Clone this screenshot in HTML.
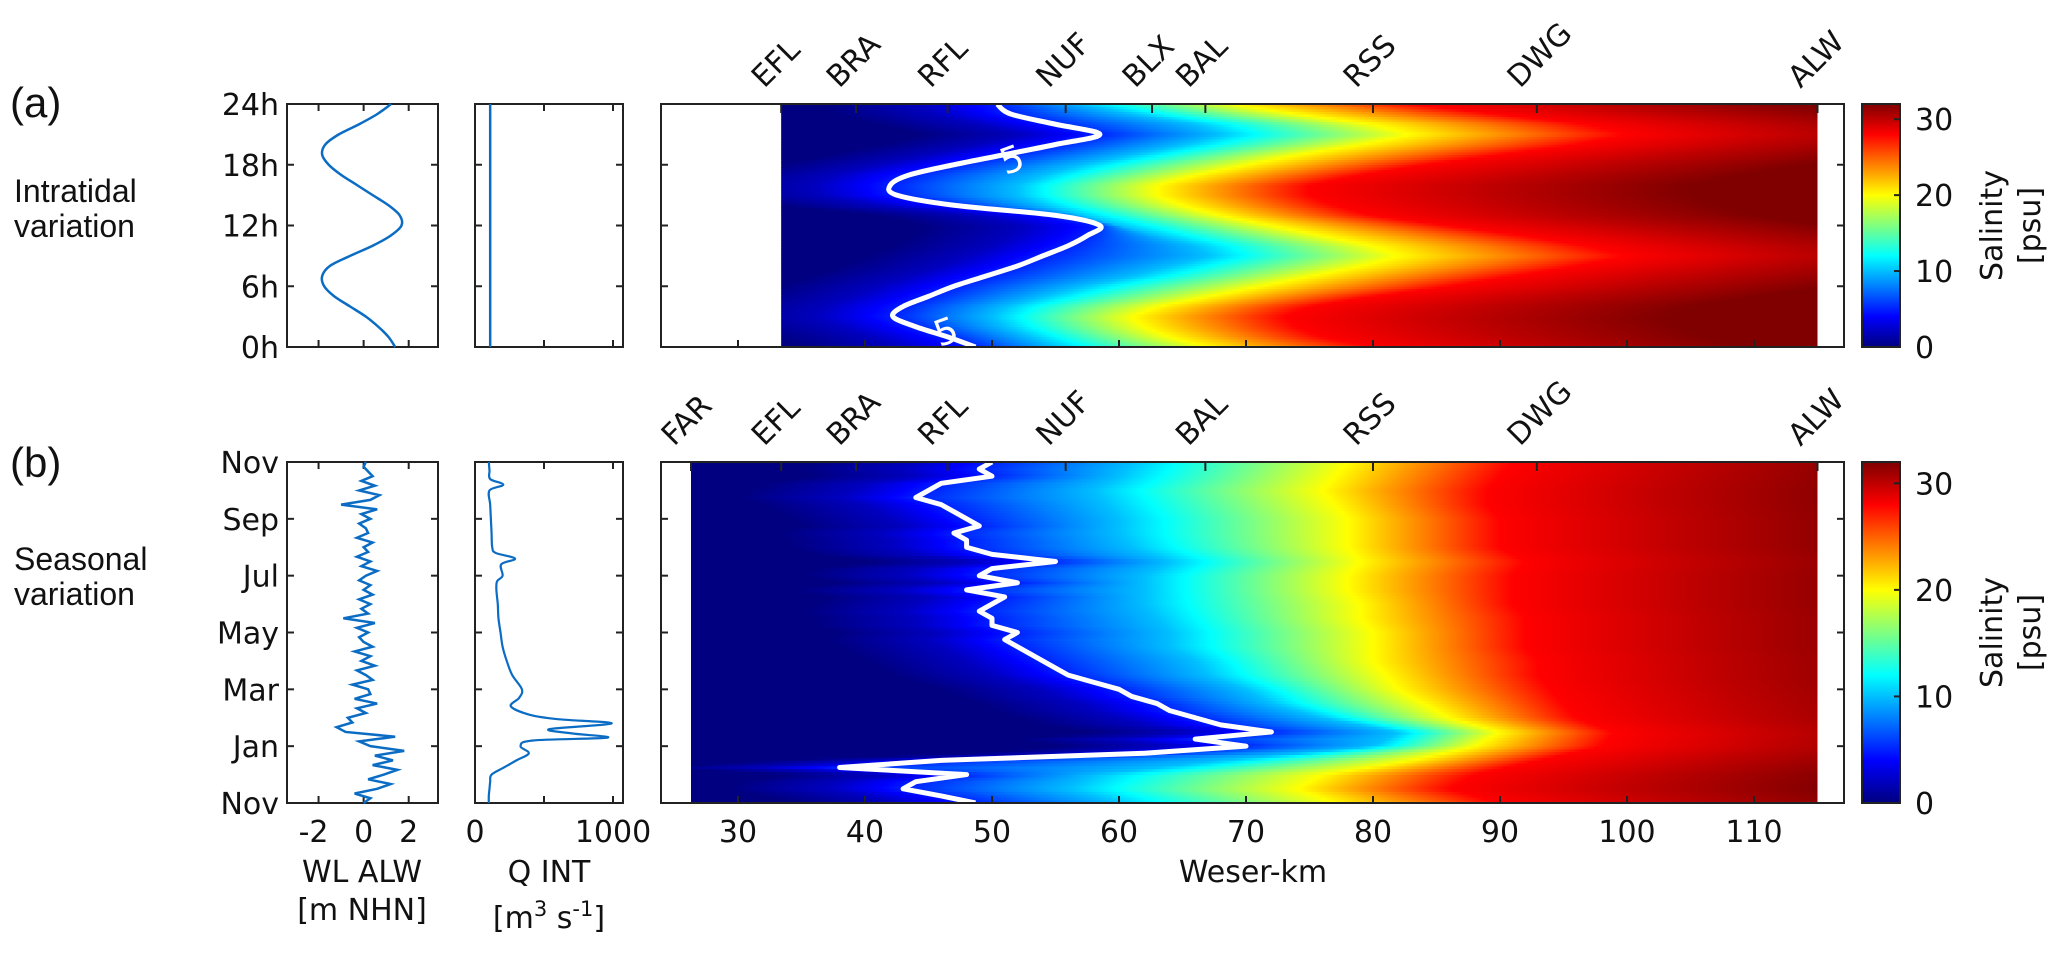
<!DOCTYPE html>
<html><head><meta charset="utf-8"><style>
html,body{margin:0;padding:0;background:#fff;}
svg{display:block;}
text{font-family:"DejaVu Sans","Liberation Sans",sans-serif;fill:#111;}
.lbl{font-family:"Liberation Sans",sans-serif;}
</style></head><body>
<svg id="fig" width="2067" height="953" viewBox="0 0 2067 953" xmlns="http://www.w3.org/2000/svg">
<defs id="defs"></defs>
<g id="root"></g>
</svg>
<script>
// ---------- data ----------
const tideHours = [0,1,2,3,4,5,6,7,8,9,10,11,12,13,14,15,16,17,18,19,20,21,22,23,24];
const tideWL = [1.4,1.1,0.65,0.1,-0.6,-1.3,-1.75,-1.84,-1.5,-0.6,0.4,1.2,1.68,1.6,1.1,0.4,-0.3,-1.0,-1.55,-1.84,-1.7,-1.1,-0.2,0.6,1.22];
const tideQ = [110,110,110,110,110,110,110,110,110,110,110,110,110,110,110,110,110,110,110,110,110,110,110,110,110];
const tideIso5 = [48.7,46.5,44,42.2,43,45,47,49.5,52,54,56,57.5,58.5,55,47,42.5,42,43.5,47,51,55,58.5,55,51.5,50.4];
const tideIso10 = [55,53,51,50,51,54,57,61,64,67,66,63,60,57,54,52,52,54,57,61,65,68,66,61,57];
const tideIso20 = [67,64,62,61,63,67,71,75,79,82,80,76,72,68,65,63,63,66,70,74,79,83,80,74,69];
const tideIso28 = [80,76,74,73,75,80,86,91,96,100,97,92,86,80,77,75,75,79,84,90,96,100,97,90,83];

const seasWL = [0.0,0.3,-0.4,0.6,1.2,0.2,0.9,1.5,0.4,1.3,0.5,1.8,0.3,-0.2,1.4,-0.8,-1.2,-0.5,-0.7,0.1,-0.3,0.6,-0.4,0.3,
 0.2,-0.5,0.4,0.1,-0.3,0.5,-0.1,0.3,-0.4,0.4,0.0,-0.2,0.2,-0.3,0.5,-0.9,0.2,-0.1,0.3,-0.2,0.4,0.0,0.3,-0.2,
 0.1,0.6,-0.1,0.3,-0.3,0.2,0.0,0.4,-0.3,0.2,0.1,-0.2,0.3,-0.1,0.6,-1.0,0.3,0.7,-0.2,0.5,-0.1,0.4,0.2,0.0,0.1];
const seasQMonths = [0,0.25,0.5,0.75,1.0,1.25,1.5,1.75,2.0,2.2,2.3,2.45,2.6,2.8,2.95,3.1,3.4,3.7,4.0,4.5,5.0,5.5,6.0,6.5,7.0,7.5,7.8,8.0,8.4,8.6,8.8,9.0,9.5,10.0,10.5,11.0,11.2,11.4,11.7,12.0];
const seasQ = [100,100,105,110,120,210,300,390,330,420,960,700,540,990,600,400,260,320,340,270,230,200,185,170,165,155,160,200,190,290,150,125,120,115,110,105,205,110,105,100];
const seasIso5 = [48.7,46,43,44,48,38,46,62,70,66,72,68,66,64,63,61,60,58,56,55,54,53,52,51,52,50,50,49,50,51,48,52,49,50,55,50,48,48,47,49,48,47,46,44,45,46,50,49,50];
const seasIso10 = [60,56,58,68,80,82,76,72,70,67,66,64,64,63,62,62,62,64,61,60,60,59,58,60,61];
const seasIso20 = [77,74,76,83,88,90,86,84,82,81,80,80,80,79,79,78,78,79,78,78,78,77,76,77,78];
const seasIso28 = [90,86,88,93,98,99,96,95,94,93,93,92,92,92,91,91,91,92,90,90,90,89,89,90,91];

const kmTicks = [30,40,50,60,70,80,90,100,110];
const stationsA = ["EFL","BRA","RFL","NUF","BLX","BAL","RSS","DWG","ALW"];
const stationsAKm = [33.4,39.3,46.5,55.8,62.6,66.8,80.0,92.9,115.0];
const stationsB = ["FAR","EFL","BRA","RFL","NUF","BAL","RSS","DWG","ALW"];
const stationsBKm = [26.3,33.4,39.3,46.5,55.8,66.8,80.0,92.9,115.0];
const hourTicks = [0,6,12,18,24];
const hourLabels = ["0h","6h","12h","18h","24h"];
const monthTicks = [0,2,4,6,8,10,12];
const monthLabels = ["Nov","Jan","Mar","May","Jul","Sep","Nov"];
const wlTicks = [-2,0,2];
const qTicks = [0,500,1000];
const qTickLabels = ["0","","1000"];
const cbTicks = [0,10,20,30];

// ---------- helpers ----------
const NS="http://www.w3.org/2000/svg";
const root=document.getElementById('root');
const defs=document.getElementById('defs');
function el(tag,attrs,parent){const e=document.createElementNS(NS,tag);for(const k in attrs)e.setAttribute(k,attrs[k]);(parent||root).appendChild(e);return e;}
function txt(s,x,y,size,anchor,parent,extra){const t=el('text',Object.assign({x:x,y:y,'font-size':size,'text-anchor':anchor||'middle'},extra||{}),parent);t.textContent=s;return t;}
const pxKm=km=>738+(km-30)*12.7;
const A={top:104,bot:347}, B={top:462,bot:803};
const yHour=h=>A.bot-h*(A.bot-A.top)/24;
const yMon=m=>B.bot-m*(B.bot-B.top)/12;
const pxWL=v=>287+(v+3.4)*(151/6.7);
const pxQ=v=>475+v*0.138;
function jet(v){v=Math.max(0,Math.min(1,v));const c=x=>Math.round(255*Math.max(0,Math.min(1,1.5-Math.abs(x))));return `rgb(${c(4*v-3)},${c(4*v-2)},${c(4*v-1)})`;}
function interp(xs,ys,x){if(x<=xs[0])return ys[0];for(let i=1;i<xs.length;i++){if(x<=xs[i]){const f=(x-xs[i-1])/(xs[i]-xs[i-1]);return ys[i-1]+f*(ys[i]-ys[i-1]);}}return ys[ys.length-1];}
function smoothPath(pts){let d=`M${pts[0][0]},${pts[0][1]}`;for(let i=0;i<pts.length-1;i++){const p0=pts[Math.max(0,i-1)],p1=pts[i],p2=pts[i+1],p3=pts[Math.min(pts.length-1,i+2)];
d+=` C${p1[0]+(p2[0]-p0[0])/6},${p1[1]+(p2[1]-p0[1])/6} ${p2[0]-(p3[0]-p1[0])/6},${p2[1]-(p3[1]-p1[1])/6} ${p2[0]},${p2[1]}`;}return d;}
function box(x1,y1,x2,y2,name){el('rect',{x:x1,y:y1,width:x2-x1,height:y2-y1,fill:'none',stroke:'#222','stroke-width':2,});}
let gid=0;
function rowGradient(i5,i10,i20,i28){
  const id='g'+(gid++);
  const g=el('linearGradient',{id:id,gradientUnits:'userSpaceOnUse',x1:pxKm(0),y1:0,x2:pxKm(150),y2:0},defs);
  const aS=[0,2,5,10,20,28,30,32], aK=[i5-14,i5-6,i5,i10,i20,i28,i28+14,i28+30];
  for(let s=0;s<=32;s+=1){const k=interp(aS,aK,s);el('stop',{offset:Math.min(1,k/150).toFixed(4),'stop-color':jet(s/32)},g);}
  return id;
}
function heat(panel,kmStart,xs,i5,i10,i20,i28,yFn,xMax,nRows,name){
  const g=el('g',{});
  for(let r=0;r<nRows;r++){
    const a=r*xMax/nRows,b=(r+1)*xMax/nRows,m=(a+b)/2;
    const id=rowGradient(interp(xs.i5,i5,m),interp(xs.i10,i10,m),interp(xs.i10,i20,m),interp(xs.i10,i28,m));
    const y1=yFn(b),y2=yFn(a);
    const rc=el('rect',{x:pxKm(kmStart),y:y1-0.3,width:pxKm(115)-pxKm(kmStart),height:y2-y1+0.6,fill:`url(#${id})`},g);
    
    
  }
}

// ---------- left labels ----------
txt('(a)',10,117,42,'start',root,{class:'lbl',});
txt('Intratidal',14,202,32,'start',root,{class:'lbl',});
txt('variation',14,237,32,'start',root,{class:'lbl',});
txt('(b)',10,477,42,'start',root,{class:'lbl',});
txt('Seasonal',14,570,32,'start',root,{class:'lbl',});
txt('variation',14,605,32,'start',root,{class:'lbl',});

// ---------- heatmaps ----------
const tx={i5:tideHours,i10:tideHours};
heat('a',33.4,tx,tideIso5,tideIso10,tideIso20,tideIso28,yHour,24,96,'heatmap-intratidal');
const sx5=seasIso5.map((_,i)=>i*12/(seasIso5.length-1));
const sx10=seasIso10.map((_,i)=>i*12/(seasIso10.length-1));
heat('b',26.3,{i5:sx5,i10:sx10},seasIso5,seasIso10,seasIso20,seasIso28,yMon,12,120,'heatmap-seasonal');

// contours
el('path',{d:smoothPath(tideIso5.map((k,i)=>[pxKm(k),yHour(tideHours[i])])),fill:'none',stroke:'#fff','stroke-width':5,});
const l1=txt('5',946,344,36,'middle',root,{transform:'rotate(-20 946 332)',});
l1.setAttribute('style','fill:#fff');
const l2=txt('5',1012,172,36,'middle',root,{transform:'rotate(-20 1012 160)',});
l2.setAttribute('style','fill:#fff');
el('polyline',{points:seasIso5.map((k,i)=>`${pxKm(k)},${yMon(sx5[i])}`).join(' '),fill:'none',stroke:'#fff','stroke-width':5,'stroke-linejoin':'round',});

// ---------- axes boxes & ticks ----------
function yTicks(x1,x2,vals,yFn){vals.forEach(v=>{const y=yFn(v);el('line',{x1:x1,y1:y,x2:x1+7,y2:y,stroke:'#222','stroke-width':2});el('line',{x1:x2,y1:y,x2:x2-7,y2:y,stroke:'#222','stroke-width':2});});}
function xTicks(vals,xFn,top,bot,botOnly){vals.forEach(v=>{const x=xFn(v);el('line',{x1:x,y1:bot,x2:x,y2:bot-7,stroke:'#222','stroke-width':2});if(!botOnly)el('line',{x1:x,y1:top,x2:x,y2:top+7,stroke:'#222','stroke-width':2});});}
[[A,'a'],[B,'b']].forEach(([P,n])=>{
  box(287,P.top,438,P.bot,'wl-axes-'+n);
  box(475,P.top,623,P.bot,'q-axes-'+n);
  box(661,P.top,1844,P.bot,'heatmap-axes-'+n);
  xTicks(wlTicks,pxWL,P.top,P.bot);
  xTicks(qTicks,pxQ,P.top,P.bot);
  xTicks(kmTicks,pxKm,P.top,P.bot,true);
  (n==='a'?stationsAKm:stationsBKm).forEach(k=>{const x=pxKm(k);el('line',{x1:x,y1:P.top,x2:x,y2:P.top+9,stroke:'#222','stroke-width':2});});
  (n==='a'?stationsA:stationsB).forEach((s,i)=>{const k=(n==='a'?stationsAKm:stationsBKm)[i];const x=pxKm(k)-17,y=P.top-15;
    const t=txt(s,x,y,30,'start',root,{transform:`rotate(-45 ${x} ${y})`});
    
    });
});
yTicks(287,438,hourTicks,yHour);yTicks(475,623,hourTicks,yHour);yTicks(661,1844,hourTicks,yHour);
yTicks(287,438,monthTicks,yMon);yTicks(475,623,monthTicks,yMon);yTicks(661,1844,monthTicks,yMon);
hourTicks.forEach((h,i)=>{const t=txt(hourLabels[i],279,yHour(h)+11,30,'end');});
monthTicks.forEach((m,i)=>{const t=txt(monthLabels[i],279,yMon(m)+11,30,'end');});
wlTicks.forEach(v=>{const t=txt(String(v),pxWL(v)-(v<0?5:0),842,30,'middle');});
qTicks.forEach((v,i)=>{if(!qTickLabels[i])return;const t=txt(qTickLabels[i],pxQ(v),842,30,'middle');});
kmTicks.forEach(v=>{const t=txt(String(v),pxKm(v),842,30,'middle');});
txt('WL ALW',362,882,30,'middle',root,{});
txt('[m NHN]',362,920,30,'middle',root,{});
txt('Q INT',549,882,30,'middle',root,{});
const qu=txt('',549,928,30,'middle',root,{});
qu.innerHTML='[m<tspan font-size="21" dy="-12">3</tspan><tspan dy="12"> s</tspan><tspan font-size="21" dy="-12">-1</tspan><tspan dy="12">]</tspan>';
txt('Weser-km',1253,882,30,'middle',root,{});

// ---------- line series ----------
el('path',{d:smoothPath(tideWL.map((v,i)=>[pxWL(v),yHour(tideHours[i])])),fill:'none',stroke:'#0b6cc4','stroke-width':2.5,});
el('polyline',{points:tideQ.map((v,i)=>`${pxQ(v)},${yHour(tideHours[i])}`).join(' '),fill:'none',stroke:'#0b6cc4','stroke-width':2.5,});
el('polyline',{points:seasWL.map((v,i)=>`${pxWL(v)},${yMon(i*12/(seasWL.length-1))}`).join(' '),fill:'none',stroke:'#0b6cc4','stroke-width':2.5,});
el('path',{d:smoothPath(seasQ.map((v,i)=>[pxQ(v),yMon(seasQMonths[i])])),fill:'none',stroke:'#0b6cc4','stroke-width':2.2,});

// ---------- colorbars ----------
const cg=el('linearGradient',{id:'cbg',x1:0,y1:1,x2:0,y2:0},defs);
for(let s=0;s<=32;s++)el('stop',{offset:(s/32).toFixed(4),'stop-color':jet(s/32)},cg);
[[A,'a'],[B,'b']].forEach(([P,n])=>{
  el('rect',{x:1862,y:P.top,width:38,height:P.bot-P.top,fill:'url(#cbg)',stroke:'#222','stroke-width':2,});
  cbTicks.forEach(v=>{const y=P.bot-v*(P.bot-P.top)/32;el('line',{x1:1900,y1:y,x2:1894,y2:y,stroke:'#222','stroke-width':2});
    const t=txt(String(v),1915,y+11,30,'start');});
  const cy=(P.top+P.bot)/2;
  txt('Salinity',2002,cy,30,'middle',root,{transform:`rotate(-90 2002 ${cy})`,});
  txt('[psu]',2040,cy,30,'middle',root,{transform:`rotate(-90 2040 ${cy})`,});
});
</script>
</body></html>
